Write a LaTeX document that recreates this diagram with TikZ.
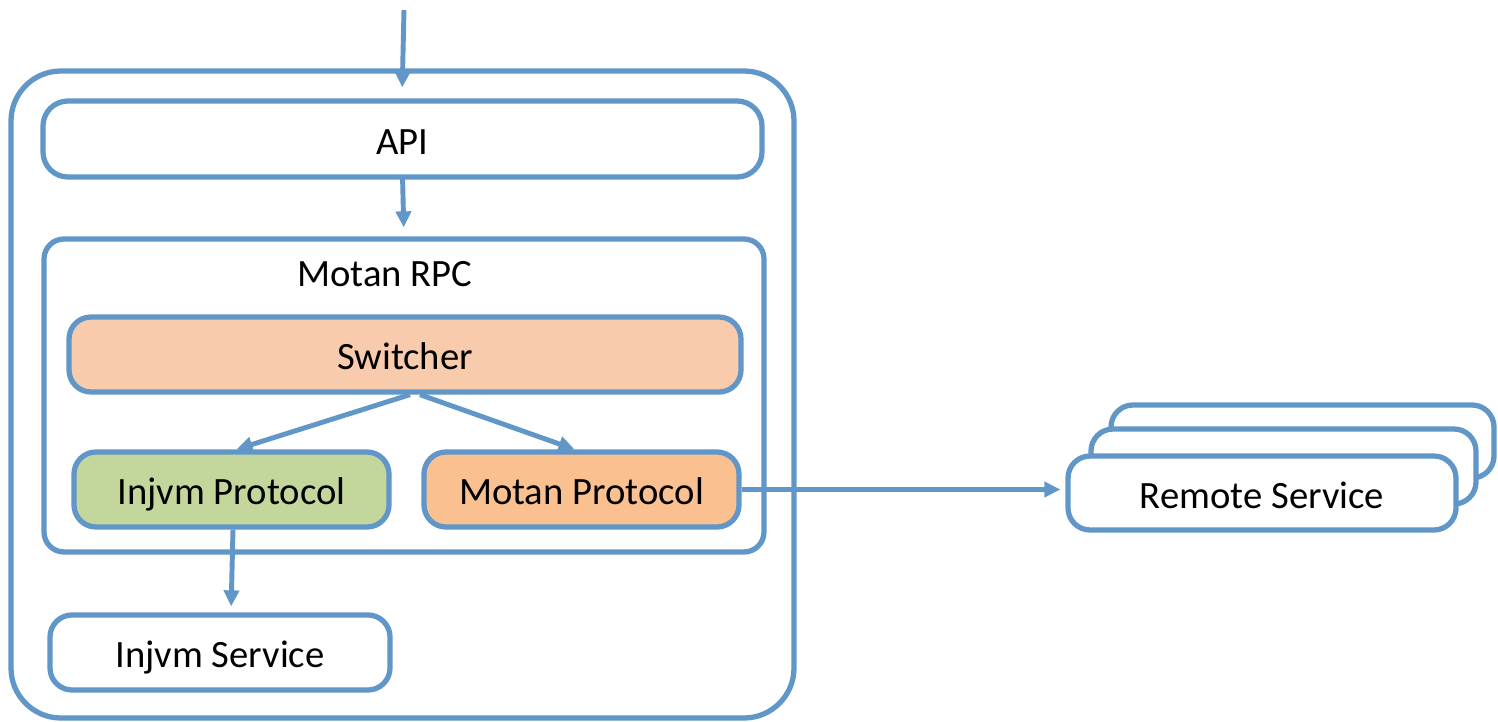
\documentclass[tikz,border=0pt]{standalone}
\usepackage{fontspec}
\setmainfont{Carlito}
\usetikzlibrary{arrows.meta}

\definecolor{edgeblue}{RGB}{96,150,200}
\definecolor{switchfill}{RGB}{248,203,173}
\definecolor{injvmfill}{RGB}{195,214,155}
\definecolor{motanfill}{RGB}{250,192,144}

\tikzset{
  box/.style={draw=edgeblue, line width=1.5pt, rounded corners=0.22cm,
    fill=white, inner sep=0pt, text height=8.6pt, text depth=0pt,
    font=\fontsize{11}{13}\selectfont},
  flow/.style={draw=edgeblue, line width=1.4pt,
    -{Triangle[length=0.16cm,width=0.15cm]}}
}

\begin{document}
\begin{tikzpicture}
  \useasboundingbox (0,0) rectangle (14.98,-7.22);

  \node [box, rounded corners=0.5cm, minimum width=7.83cm, minimum height=6.47cm] (host) at (4.025,-3.945) {};
  \node [box, rounded corners=0.25cm, minimum width=7.19cm, minimum height=0.76cm] (api) at (4.025,-1.39) {API};
  \node [box, rounded corners=0.2cm, minimum width=7.2cm, minimum height=3.13cm] (rpc) at (4.04,-3.955) {};
  \node [font=\fontsize{11}{13}\selectfont] (rpclabel) at (3.85,-2.74) {Motan RPC};

  \node [box, fill=switchfill, minimum width=6.72cm, minimum height=0.75cm] (switcher) at (4.05,-3.545) {Switcher};
  \node [box, fill=injvmfill, minimum width=3.15cm, minimum height=0.75cm] (injvmp) at (2.315,-4.895) {Injvm Protocol};
  \node [box, fill=motanfill, minimum width=3.15cm, minimum height=0.75cm] (motanp) at (5.815,-4.895) {Motan Protocol};
  \node [box, minimum width=3.4cm, minimum height=0.75cm] (injvms) at (2.2,-6.525) {Injvm Service};

  % stacked remote services
  \node [box, minimum width=3.83cm, minimum height=0.73cm] (remote3) at (13.025,-4.415) {};
  \node [box, minimum width=3.85cm, minimum height=0.75cm] (remote2) at (12.835,-4.665) {};
  \node [box, minimum width=3.88cm, minimum height=0.74cm] (remote) at (12.62,-4.93) {Remote Service};

  \coordinate (entry) at (4.04,-0.10);
  \draw [flow, shorten >=0.11cm] (entry) -- ([xshift=-0.005cm]api.north);
  \draw [flow, shorten >=0.09cm] ([yshift=0.04cm]api.south) -- (rpc.north);
  \draw [flow] ([xshift=0.05cm]switcher.south) -- ([xshift=0.05cm]injvmp.north);
  \draw [flow] ([xshift=0.15cm]switcher.south) -- ([xshift=-0.07cm]motanp.north);
  \draw [flow, shorten >=0.06cm] ([xshift=0.015cm]injvmp.south) -- ([xshift=0.11cm]injvms.north);
  \draw [flow, shorten >=0.05cm] (motanp.east) -- (motanp.east -| remote.west);
\end{tikzpicture}
\end{document}
